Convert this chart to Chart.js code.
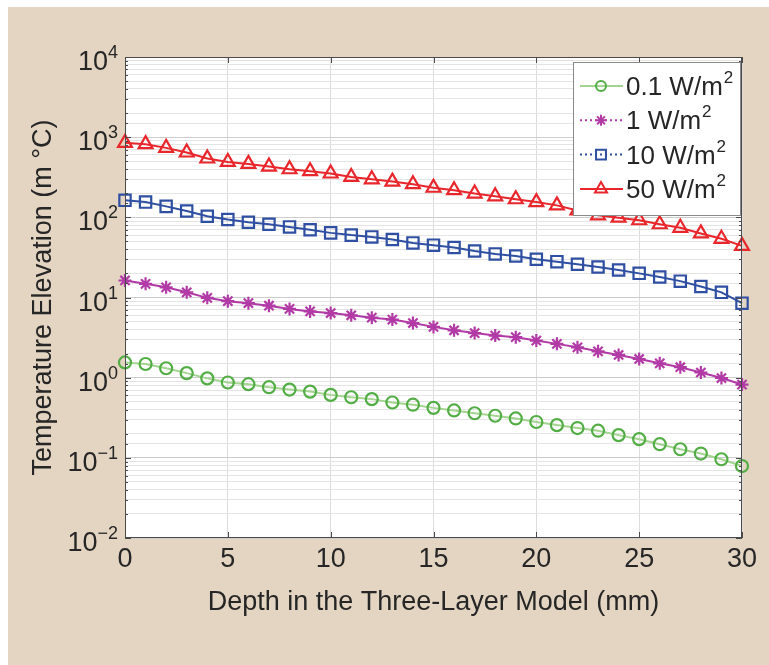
<!DOCTYPE html>
<html>
<head>
<meta charset="utf-8">
<script src="https://cdn.jsdelivr.net/npm/chart.js@4.4.0/dist/chart.umd.min.js"></script>
<style>
  html, body { margin: 0; padding: 0; background: #fff; }
  #caja { position: relative; width: 769px; height: 665px; }
</style>
</head>
<body>
<div id="caja"><canvas id="grafico" width="769" height="665"></canvas></div>
<script>
// profundidad (mm)
let profundidad = [0, 1, 2, 3, 4, 5, 6, 7, 8, 9, 10, 11, 12, 13, 14, 15, 16, 17, 18, 19, 20, 21, 22, 23, 24, 25, 26, 27, 28, 29, 30];

// elevacion de temperatura (m °C) para cada potencia
let t01 = [1.55, 1.48, 1.31, 1.14, 0.98, 0.87, 0.83, 0.76, 0.71, 0.67, 0.61, 0.57, 0.54, 0.49, 0.46, 0.42, 0.39, 0.36, 0.335, 0.31, 0.28, 0.256, 0.235, 0.218, 0.192, 0.171, 0.148, 0.128, 0.113, 0.096, 0.079];
let t1 = [16.3, 14.8, 13.4, 11.6, 9.9, 9.0, 8.5, 7.9, 7.2, 6.7, 6.4, 6.0, 5.6, 5.3, 4.8, 4.3, 3.9, 3.6, 3.35, 3.2, 2.9, 2.64, 2.39, 2.13, 1.92, 1.71, 1.51, 1.35, 1.16, 0.99, 0.82];
let t10 = [163, 155, 137, 120, 103, 94, 87, 82, 76, 70, 64, 60, 57, 53, 48, 45, 42, 38, 35, 33, 30, 28, 26, 24, 22, 20, 18, 16, 13.7, 11.6, 8.5];
let t50 = [849, 818, 735, 644, 542, 491, 464, 430, 398, 376, 352, 319, 298, 279, 259, 234, 218, 198, 183, 168, 155, 141, 122, 106, 99, 92, 82, 74, 63, 54, 44];

let etiquetas = ["0.1 W/m²", "1 W/m²", "10 W/m²", "50 W/m²"];
let exponentesY = [-2, -1, 0, 1, 2, 3, 4];
let ticksX = [0, 5, 10, 15, 20, 25, 30];

const fuente = "'Liberation Sans', Arial, sans-serif";
const colorTexto = '#262626';

let series = [
    { datos: t01, linea: '#a3d490', marca: '#52ad45', estilo: 'circle', radio: 6, guion: [] },
    { datos: t1, linea: '#b23aa6', marca: '#b23aa6', estilo: 'star', radio: 6.5, guion: [2, 3] },
    { datos: t10, linea: '#2f4fa2', marca: '#2f4fa2', estilo: 'rect', radio: 8, guion: [2, 3] },
    { datos: t50, linea: '#e8262b', marca: '#e8262b', estilo: 'triangle', radio: 8, guion: [] },
];

function puntos(valores) {
    return profundidad.map((x, i) => ({ x: x, y: valores[i] }));
}

function esDecada(v) {
    let l = Math.log10(v);
    return Math.abs(l - Math.round(l)) < 1e-6;
}

const fondo = {
    id: 'fondo',
    beforeDraw(chart) {
        const ctx = chart.ctx;
        const a = chart.chartArea;
        ctx.save();
        ctx.fillStyle = '#fff';
        ctx.fillRect(0, 0, chart.width, chart.height);
        ctx.fillStyle = '#e3d5c2';
        ctx.fillRect(8, 7, chart.width - 8, chart.height - 7);
        ctx.fillStyle = '#fff';
        ctx.fillRect(a.left, a.top, a.right - a.left, a.bottom - a.top);
        ctx.restore();
    }
};

// caja de ejes, marcas hacia dentro y etiquetas 10^n
const ejes = {
    id: 'ejes',
    afterDatasetsDraw(chart) {
        const ctx = chart.ctx;
        const a = chart.chartArea;
        const sx = chart.scales.x, sy = chart.scales.y;
        ctx.save();
        ctx.strokeStyle = '#4a4a4a';
        ctx.lineWidth = 1;
        ctx.strokeRect(a.left + 0.5, a.top + 0.5, a.right - a.left - 1, a.bottom - a.top - 1);
        ctx.beginPath();
        sy.ticks.forEach(t => {
            let py = Math.round(sy.getPixelForValue(t.value)) + 0.5;
            let largo = esDecada(t.value) ? 6 : 3;
            ctx.moveTo(a.left, py); ctx.lineTo(a.left + largo, py);
            ctx.moveTo(a.right, py); ctx.lineTo(a.right - largo, py);
        });
        ticksX.forEach(v => {
            let px = Math.round(sx.getPixelForValue(v)) + 0.5;
            ctx.moveTo(px, a.bottom); ctx.lineTo(px, a.bottom - 6);
            ctx.moveTo(px, a.top); ctx.lineTo(px, a.top + 6);
        });
        ctx.stroke();

        ctx.fillStyle = colorTexto;
        ctx.textBaseline = 'alphabetic';
        exponentesY.forEach(e => {
            let py = sy.getPixelForValue(Math.pow(10, e));
            let exp = e < 0 ? '\u2212' + Math.abs(e) : String(e);
            ctx.font = '18px ' + fuente;
            ctx.textAlign = 'right';
            let w = ctx.measureText(exp).width;
            ctx.fillText(exp, 118, py + 1);
            ctx.font = '27px ' + fuente;
            ctx.fillText('10', 118 - w, py + 13);
        });
        ctx.restore();
    }
};

const leyenda = {
    id: 'leyenda',
    afterDraw(chart) {
        const ctx = chart.ctx;
        ctx.save();
        ctx.fillStyle = '#fff';
        ctx.fillRect(573, 62, 167, 153);
        ctx.strokeStyle = '#8a8a8a';
        ctx.lineWidth = 1;
        ctx.strokeRect(573.5, 62.5, 167, 153);
        series.forEach((s, i) => {
            let y = 86 + i * 34.3;
            ctx.strokeStyle = s.linea;
            ctx.lineWidth = 2;
            ctx.setLineDash(s.guion);
            ctx.beginPath();
            ctx.moveTo(580, y); ctx.lineTo(623, y);
            ctx.stroke();
            ctx.setLineDash([]);
            ctx.strokeStyle = s.marca;
            ctx.fillStyle = 'rgba(0,0,0,0)';
            Chart.helpers.drawPoint(ctx, { pointStyle: s.estilo, radius: s.radio - 1, borderWidth: 2, rotation: 0 }, 601, y);
            let partes = etiquetas[i].split('²');
            ctx.fillStyle = colorTexto;
            ctx.textAlign = 'left';
            ctx.textBaseline = 'alphabetic';
            ctx.font = '26px ' + fuente;
            ctx.fillText(partes[0], 626, y + 9);
            let w = ctx.measureText(partes[0]).width;
            ctx.font = '17px ' + fuente;
            ctx.fillText('2', 627 + w, y - 3);
        });
        ctx.restore();
    }
};

new Chart(document.getElementById('grafico'), {
    type: 'line',
    data: {
        datasets: series.map((s, i) => ({
            label: etiquetas[i],
            data: puntos(s.datos),
            borderColor: s.linea,
            borderWidth: 2,
            pointStyle: s.estilo,
            pointRadius: s.radio,
            pointBorderWidth: 2.2,
            pointBorderColor: s.marca,
            pointBackgroundColor: 'rgba(0,0,0,0)',
            tension: 0,
            clip: false,
        })),
    },
    plugins: [fondo, ejes, leyenda],
    options: {
        responsive: false,
        animation: false,
        events: [],
        layout: { padding: { top: 57, right: 27, bottom: 0, left: 0 } },
        plugins: { legend: { display: false }, tooltip: { enabled: false } },
        scales: {
            x: {
                type: 'linear',
                min: 0,
                max: 30,
                afterFit(scale) { scale.height = 127; },
                ticks: { stepSize: 5, padding: 5, color: colorTexto, font: { family: fuente, size: 27 } },
                grid: { color: '#dcdcdc', drawTicks: false },
                border: { display: false },
                title: {
                    display: true,
                    text: 'Depth in the Three-Layer Model (mm)',
                    color: colorTexto,
                    font: { family: fuente, size: 27 },
                    padding: { top: 0, bottom: 46 },
                },
            },
            y: {
                type: 'logarithmic',
                min: 0.01,
                max: 10000,
                afterFit(scale) { scale.width = 125; },
                ticks: { display: false },
                grid: {
                    drawTicks: false,
                    color: (c) => (c.tick && esDecada(c.tick.value)) ? '#cdcdcd' : '#e4e4e4',
                },
                border: { display: false },
                title: {
                    display: true,
                    text: 'Temperature Elevation (m °C)',
                    color: colorTexto,
                    font: { family: fuente, size: 27 },
                    padding: { top: 27, bottom: 0 },
                },
            },
        },
    },
});
</script>
</body>
</html>
